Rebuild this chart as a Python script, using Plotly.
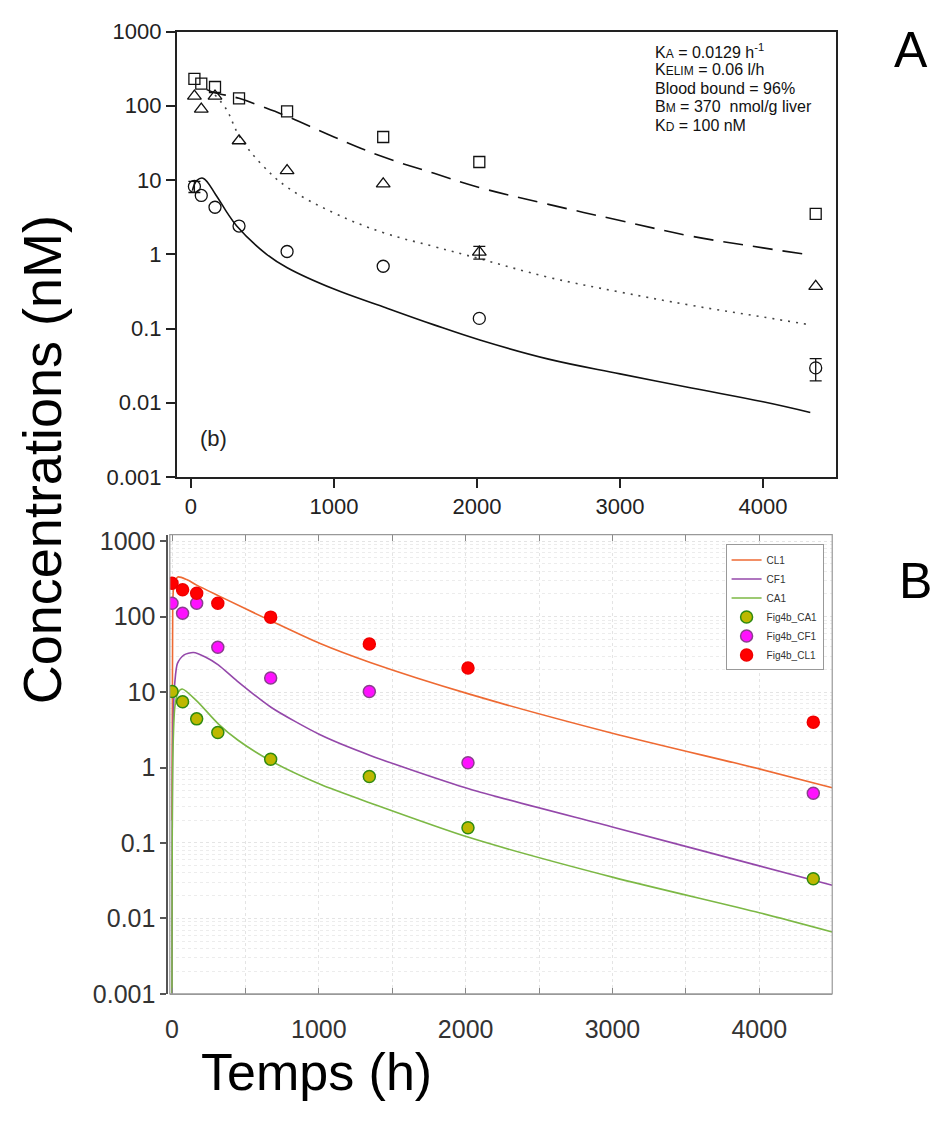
import plotly.graph_objects as go

# ---------------- Panel A data (published fit, Fig. 4b) ----------------
a_time = [24, 72, 168, 336, 672, 1344, 2016, 4368]
a_liver = [231, 199, 179, 126, 84, 38, 17.5, 3.5]          # squares
a_free = [135, 90, 135, 33.8, 13.4, 8.9, 1.07, 0.37]        # triangles
a_free_err = [0, 0, 0, 0, 0, 0, 0.21, 0]
a_blood = [8.2, 6.2, 4.3, 2.4, 1.09, 0.69, 0.137, 0.0295]  # circles
a_blood_err = [1.4, 0, 0, 0, 0, 0, 0, 0.0098]

a_dash_t = [110, 168, 336, 500, 673, 1000, 1347, 1700, 2020, 2500, 3000, 3500, 4000, 4330]
a_dash_v = [165, 150, 126, 97, 72, 38, 20.4, 12.3, 7.9, 4.7, 2.85, 1.75, 1.22, 0.98]
a_dot_t = [168, 250, 338, 500, 673, 1000, 1347, 1700, 2020, 2500, 3000, 3500, 4000, 4330]
a_dot_v = [140, 88, 39, 15.8, 8.0, 3.6, 1.95, 1.27, 0.87, 0.49, 0.31, 0.205, 0.143, 0.112]
a_sol_t = [10, 40, 84, 172, 250, 320, 529, 673, 1000, 1347, 1700, 2020, 2500, 3000, 3500, 4000, 4330]
a_sol_v = [7.2, 9.8, 10.6, 6.4, 3.7, 2.41, 1.0, 0.66, 0.34, 0.195, 0.112, 0.07, 0.0387, 0.0245, 0.0158, 0.0103, 0.0074]

# ---------------- Panel B data (model re-fit) ----------------
b_time = [0, 72, 168, 312, 672, 1344, 2016, 4368]
b_cl1 = [277, 228, 204, 151, 98.6, 43.5, 20.9, 4.0]
b_cf1 = [151, 111, 151, 39.4, 15.4, 10.2, 1.16, 0.457]
b_ca1 = [10.2, 7.45, 4.42, 2.92, 1.29, 0.76, 0.159, 0.0335]

cl1_t = [0, 4, 12, 40, 100, 168, 315, 674, 1009, 1350, 2026, 3006, 4000, 4497]
cl1_v = [0.2, 60, 250, 336, 310, 262, 190, 88, 44, 24.7, 9.4, 2.83, 0.96, 0.54]
cf1_t = [0, 6, 19, 37, 80, 146, 230, 315, 444, 674, 1009, 1350, 2026, 3006, 4000, 4497]
cf1_v = [0.001, 3, 13.3, 24, 31, 33.5, 29, 23, 14, 6.3, 2.72, 1.45, 0.52, 0.162, 0.0497, 0.0275]
ca1_t = [0, 6, 20, 40, 70, 170, 315, 450, 675, 1009, 1350, 2026, 3006, 4000, 4497]
ca1_v = [0.0008, 1.5, 6.5, 9.8, 11, 7.6, 3.8, 2.3, 1.22, 0.6, 0.34, 0.118, 0.035, 0.0119, 0.0066]

ytickvals = [0.001, 0.01, 0.1, 1, 10, 100, 1000]
yticktext = ["0.001", "0.01", "0.1", "1", "10", "100", "1000"]

W, H = 931, 1129
def px(x):
    return x / W
def py(y):
    return 1 - y / H

fig = go.Figure()

# ---- Panel A traces ----
fig.add_trace(go.Scatter(x=a_dash_t, y=a_dash_v, mode="lines", line=dict(color="#111", width=1.6, dash="20px,10px", shape="spline", smoothing=1.1),
                         xaxis="x", yaxis="y", showlegend=False))
fig.add_trace(go.Scatter(x=a_dot_t, y=a_dot_v, mode="lines", line=dict(color="#444", width=1.6, dash="2px,6px", shape="spline", smoothing=1.1),
                         xaxis="x", yaxis="y", showlegend=False))
fig.add_trace(go.Scatter(x=a_sol_t, y=a_sol_v, mode="lines", line=dict(color="#111", width=1.6, shape="spline", smoothing=1.1),
                         xaxis="x", yaxis="y", showlegend=False))
fig.add_trace(go.Scatter(x=a_time, y=a_liver, mode="markers",
                         marker=dict(symbol="square-open", size=11, color="#111", line=dict(width=1.3)),
                         xaxis="x", yaxis="y", showlegend=False))
fig.add_trace(go.Scatter(x=a_time, y=a_free, mode="markers",
                         marker=dict(symbol="triangle-up-open", size=12, color="#111", line=dict(width=1.3)),
                         xaxis="x", yaxis="y", showlegend=False))
fig.add_trace(go.Scatter(x=a_time, y=a_blood, mode="markers",
                         marker=dict(symbol="circle-open", size=12, color="#111", line=dict(width=1.3)),
                         xaxis="x", yaxis="y", showlegend=False))

# error bars only where the figure shows them
for vals, errs in ((a_free, a_free_err), (a_blood, a_blood_err)):
    idx = [i for i, e in enumerate(errs) if e > 0]
    fig.add_trace(go.Scatter(x=[a_time[i] for i in idx], y=[vals[i] for i in idx], mode="markers",
                             marker=dict(size=1, color="rgba(0,0,0,0)"),
                             error_y=dict(type="data", array=[errs[i] for i in idx], color="#111", thickness=1.3, width=6),
                             xaxis="x", yaxis="y", showlegend=False, hoverinfo="skip"))

# ---- Panel B traces ----
fig.add_trace(go.Scatter(x=cl1_t, y=cl1_v, mode="lines", name="CL1", line=dict(color="#ee6a33", width=1.6, shape="spline", smoothing=0.7),
                         xaxis="x2", yaxis="y2"))
fig.add_trace(go.Scatter(x=cf1_t, y=cf1_v, mode="lines", name="CF1", line=dict(color="#9448aa", width=1.6, shape="spline", smoothing=0.7),
                         xaxis="x2", yaxis="y2"))
fig.add_trace(go.Scatter(x=ca1_t, y=ca1_v, mode="lines", name="CA1", line=dict(color="#7cb845", width=1.6, shape="spline", smoothing=0.7),
                         xaxis="x2", yaxis="y2"))
fig.add_trace(go.Scatter(x=b_time, y=b_ca1, mode="markers", name="Fig4b_CA1",
                         marker=dict(size=12, color="#bdb800", line=dict(color="#2f8a10", width=1.5)),
                         xaxis="x2", yaxis="y2"))
fig.add_trace(go.Scatter(x=b_time, y=b_cf1, mode="markers", name="Fig4b_CF1",
                         marker=dict(size=12, color="#ff10ff", line=dict(color="#8a3f8e", width=1.5)),
                         xaxis="x2", yaxis="y2"))
fig.add_trace(go.Scatter(x=b_time, y=b_cl1, mode="markers", name="Fig4b_CL1",
                         marker=dict(size=12, color="#ff0000", line=dict(color="#f00000", width=1.5)),
                         xaxis="x2", yaxis="y2"))

font_main = "Liberation Sans, Arial, sans-serif"

fig.update_layout(
    width=W, height=H,
    margin=dict(l=0, r=0, t=0, b=0),
    paper_bgcolor="white", plot_bgcolor="white",
    font=dict(family=font_main, color="#222"),
    xaxis=dict(domain=[px(172.6), px(835.5)], range=[-100, 4510], anchor="y",
               tickvals=[0, 1000, 2000, 3000, 4000], ticks="outside", ticklen=9, tickwidth=1.5, tickcolor="#222",
               showline=True, linecolor="#222", linewidth=1.5, mirror=True, showgrid=False, zeroline=False,
               tickfont=dict(size=22, color="#222")),
    yaxis=dict(domain=[py(476), py(20)], type="log", range=[-3, 3], anchor="x",
               tickvals=ytickvals, ticktext=yticktext, ticks="outside", ticklen=9, tickwidth=1.5, tickcolor="#222",
               showline=True, linecolor="#222", linewidth=1.5, mirror=True, showgrid=False, zeroline=False,
               tickfont=dict(size=22, color="#222")),
    xaxis2=dict(domain=[px(165.7), px(831.7)], range=[-15, 4497], anchor="y2",
                tickvals=[0, 500, 1000, 1500, 2000, 2500, 3000, 3500, 4000],
                ticktext=["0", "", "1000", "", "2000", "", "3000", "", "4000"],
                ticks="inside", ticklen=6, tickwidth=1, tickcolor="#888", ticklabelstandoff=13,
                showline=True, linecolor="#999", linewidth=1.2, mirror="ticks",
                showgrid=True, gridcolor="#e4e4e4", griddash="dot", gridwidth=1, zeroline=False,
                tickfont=dict(size=25, color="#333")),
    yaxis2=dict(domain=[py(1005), py(535)], type="log", range=[-3, 3.087], anchor="free", position=px(163.3),
                tickvals=ytickvals, ticktext=yticktext, ticks="outside", ticklen=6, tickwidth=2, tickcolor="#555",
                showline=True, linecolor="#555", linewidth=2, zeroline=False,
                showgrid=True, gridcolor="#e4e4e4", griddash="dot", gridwidth=1,
                minor=dict(dtick="D1", showgrid=True, gridcolor="#ececec", griddash="dot", gridwidth=1, ticks=""),
                tickfont=dict(size=25, color="#333")),
    legend=dict(x=px(823), y=py(545), xanchor="right", yanchor="top", bgcolor="white",
                bordercolor="#999", borderwidth=1, font=dict(size=10, color="#333"), tracegroupgap=0,
                itemwidth=30),
    showlegend=True,
)

# Box for panel B
fig.add_shape(type="rect", xref="x2 domain", yref="y2 domain", x0=0, x1=1, y0=0, y1=1,
              line=dict(color="#999", width=1.2), layer="above")

annots = [
    dict(text="Concentrations (nM)", x=px(38), y=py(458), textangle=-90, font=dict(size=54, color="#000")),
    dict(text="Temps (h)", x=px(313), y=py(1085), font=dict(size=52, color="#000")),
    dict(text="A", x=px(911), y=py(39), font=dict(size=50, color="#000")),
    dict(text="B", x=px(915), y=py(582), font=dict(size=50, color="#000")),
    dict(text="(b)", x=px(210), y=py(437), font=dict(size=22, color="#222")),
]
for a in annots:
    fig.add_annotation(xref="paper", yref="paper", showarrow=False, xanchor="center", yanchor="middle", **a)

sc = "<span style='font-size:12px'>"
info_lines = [
    "K" + sc + "A</span> = 0.0129 h<sup>-1</sup>",
    "K" + sc + "ELIM</span> = 0.06 l/h",
    "Blood bound = 96%",
    "B" + sc + "M</span> = 370  nmol/g liver",
    "K" + sc + "D</span> = 100 nM",
]
info_y = [40, 59, 78, 97, 116]
for t, yy in zip(info_lines, info_y):
    fig.add_annotation(xref="paper", yref="paper", showarrow=False, xanchor="left", yanchor="middle",
                       x=px(652), y=py(yy), text=t, font=dict(size=16, color="#111"))

fig.write_html("out.html")
